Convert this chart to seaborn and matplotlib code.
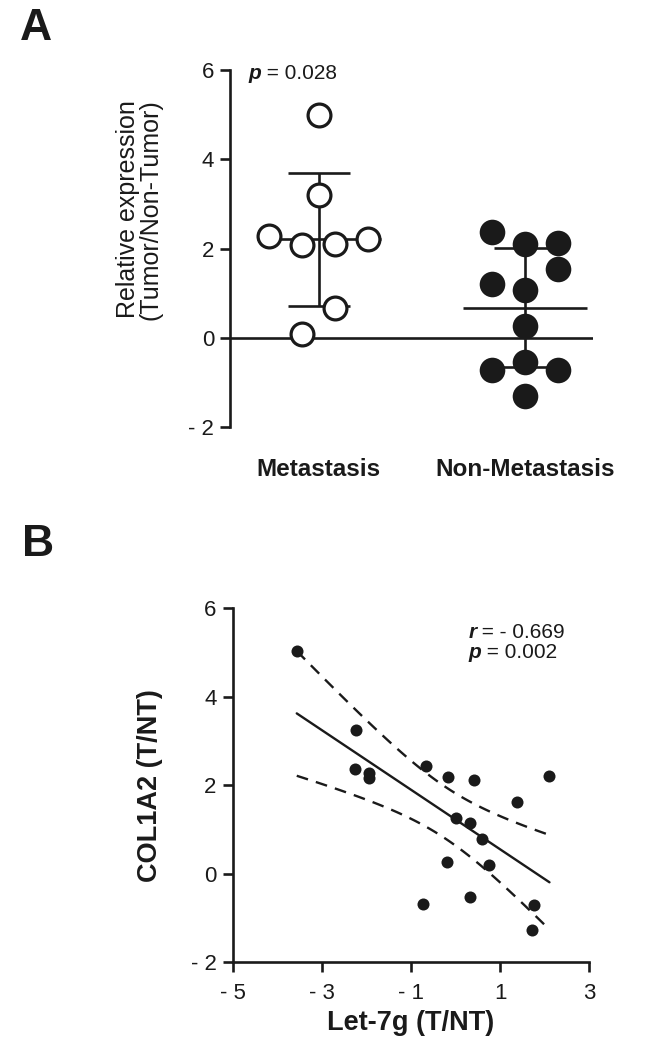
import numpy as np
import pandas as pd
import matplotlib
matplotlib.use('Agg')
import matplotlib.pyplot as plt
import seaborn as sns

# panel A: relative expression (Tumor/Non-Tumor), listed in drawing order
groups = ['Metastasis', 'Non-Metastasis']
metastasis = [5.00, 3.19, 2.29, 2.07, 2.11, 2.22, 0.09, 0.67]
non_metastasis = [2.36, 2.11, 2.13, 1.21, 1.08, 1.55, 0.27, -0.72, -0.55, -0.72, -1.30]
p_a = '0.028'
yticks_a = [-2, 0, 2, 4, 6]

# panel B: Let-7g vs COL1A2 (T/NT)
let7g = [-3.56, -2.22, -2.25, -1.93, -1.93, -0.66, -0.16, 0.42, 2.11, 1.39,
         0.02, 0.33, 0.60, -0.19, 0.76, -0.72, 0.33, 1.77, 1.71]
col1a2 = [5.04, 3.25, 2.36, 2.27, 2.16, 2.44, 2.18, 2.12, 2.21, 1.61,
          1.26, 1.14, 0.77, 0.26, 0.19, -0.68, -0.53, -0.71, -1.28]
r_b = '- 0.669'
p_b = '0.002'
xticks_b = [-5, -3, -1, 1, 3]
yticks_b = [-2, 0, 2, 4, 6]

T_CRIT = 2.110  # t(0.975, df=17)
INK = '#1a1a1a'


def tick_fmt(v):
    return f'- {abs(v)}' if v < 0 else str(v)


def row_offsets(values, row_height=0.6, step=0.16):
    # graphpad-like scatter: points with close values share a row and spread sideways
    values = np.asarray(values)
    order = np.argsort(-values, kind='stable')
    rows, cur = [], [order[0]]
    for i in order[1:]:
        if values[cur[0]] - values[i] <= row_height:
            cur.append(i)
        else:
            rows.append(cur)
            cur = [i]
    rows.append(cur)
    offs = np.zeros(len(values))
    for row in rows:
        row = sorted(row)
        for k, i in enumerate(row):
            offs[i] = (k - (len(row) - 1) / 2) * step
    return offs


def label_p(ax, x, y, head, rest, size):
    t = ax.text(x, y, head, transform=ax.transAxes, fontsize=size,
                fontweight='bold', fontstyle='italic', va='baseline', color=INK)
    ax.annotate(rest, xy=(1, 0), xycoords=t, va='bottom', fontsize=size, color=INK)


sns.set_theme(style='ticks')
plt.rcParams['font.family'] = ['Liberation Sans', 'DejaVu Sans']
plt.rcParams['axes.edgecolor'] = INK
plt.rcParams['xtick.color'] = INK
plt.rcParams['ytick.color'] = INK

fig = plt.figure(figsize=(6.46, 10.5), dpi=100)

# ---------------- panel A ----------------
axA = fig.add_axes([0.356, 0.5933, 0.562, 0.340])
df_a = pd.DataFrame({
    'group': [groups[0]] * len(metastasis) + [groups[1]] * len(non_metastasis),
    'value': metastasis + non_metastasis,
})
df_a['x'] = np.concatenate([0 + row_offsets(metastasis), 1 + row_offsets(non_metastasis)])

axA.axhline(0, color=INK, lw=1.9, zorder=1)
for gi, g in enumerate(groups):
    v = df_a.loc[df_a['group'] == g, 'value']
    m, sd = v.mean(), v.std()
    axA.hlines(m, gi - 0.3, gi + 0.3, color=INK, lw=1.9, zorder=2)
    axA.vlines(gi, m - sd, m + sd, color=INK, lw=1.9, zorder=2)
    axA.hlines([m - sd, m + sd], gi - 0.15, gi + 0.15, color=INK, lw=1.9, zorder=2)

sns.scatterplot(data=df_a[df_a['group'] == groups[0]], x='x', y='value', ax=axA,
                s=270, facecolor='white', edgecolor=INK, linewidth=2.3,
                zorder=3, clip_on=False, legend=False)
sns.scatterplot(data=df_a[df_a['group'] == groups[1]], x='x', y='value', ax=axA,
                s=340, color=INK, edgecolor=INK, linewidth=0,
                zorder=3, clip_on=False, legend=False)

axA.set_xlim(-0.43, 1.33)
axA.set_ylim(-2, 6)
axA.set_yticks(yticks_a, [tick_fmt(v) for v in yticks_a])
axA.set_xticks([0, 1], groups)
for s in ['top', 'right', 'bottom']:
    axA.spines[s].set_visible(False)
axA.spines['left'].set_linewidth(1.9)
axA.tick_params(axis='y', length=7.5, width=1.9, pad=4, labelsize=16)
axA.tick_params(axis='x', length=0, pad=22, labelsize=17.5)
for lab in axA.get_xticklabels():
    lab.set_fontweight('bold')
axA.set_xlabel('')
axA.set_ylabel('Relative expression\n(Tumor/Non-Tumor)', fontsize=18, linespacing=0.95, color=INK)
axA.yaxis.set_label_coords(-0.185, 0.61)
label_p(axA, 0.05, 0.975, 'p', ' = ' + p_a, 15)

# ---------------- panel B ----------------
axB = fig.add_axes([0.360, 0.0838, 0.552, 0.337])
xb = np.array(let7g)
yb = np.array(col1a2)
slope, icpt = np.polyfit(xb, yb, 1)
n = len(xb)
resid = yb - (slope * xb + icpt)
s_err = np.sqrt(np.sum(resid ** 2) / (n - 2))
sxx = np.sum((xb - xb.mean()) ** 2)
xs = np.linspace(xb.min(), xb.max(), 100)
fit = slope * xs + icpt
half = T_CRIT * s_err * np.sqrt(1 / n + (xs - xb.mean()) ** 2 / sxx)

axB.plot(xs, fit, color=INK, lw=1.7, zorder=2)
axB.plot(xs, fit + half, color=INK, lw=1.7, ls=(0, (5, 3.5)), zorder=2)
axB.plot(xs, fit - half, color=INK, lw=1.7, ls=(0, (5, 3.5)), zorder=2)
sns.scatterplot(x=xb, y=yb, ax=axB, s=75, color=INK, linewidth=0,
                zorder=3, clip_on=False, legend=False)

axB.set_xlim(-5, 3)
axB.set_ylim(-2, 6)
axB.set_xticks(xticks_b, [tick_fmt(v) for v in xticks_b])
axB.set_yticks(yticks_b, [tick_fmt(v) for v in yticks_b])
for s in ['top', 'right']:
    axB.spines[s].set_visible(False)
for s in ['left', 'bottom']:
    axB.spines[s].set_linewidth(1.9)
axB.tick_params(axis='y', length=7.5, width=1.9, pad=4, labelsize=16)
axB.tick_params(axis='x', length=7, width=1.9, pad=8, labelsize=16)
axB.set_xlabel('Let-7g (T/NT)', fontsize=19.5, fontweight='bold', color=INK)
axB.set_ylabel('COL1A2 (T/NT)', fontsize=19.5, fontweight='bold', color=INK)
axB.xaxis.set_label_coords(0.498, -0.135)
axB.yaxis.set_label_coords(-0.195, 0.5)
label_p(axB, 0.661, 0.915, 'r', ' = ' + r_b, 15)
label_p(axB, 0.661, 0.858, 'p', ' = ' + p_b, 15)

# panel letters
fig.text(20 / 646, 1 - 40 / 1050, 'A', fontsize=32, fontweight='bold', va='baseline', color=INK)
fig.text(22 / 646, 1 - 556 / 1050, 'B', fontsize=32, fontweight='bold', va='baseline', color=INK)

fig.savefig('out.png', dpi=100, facecolor='white')
